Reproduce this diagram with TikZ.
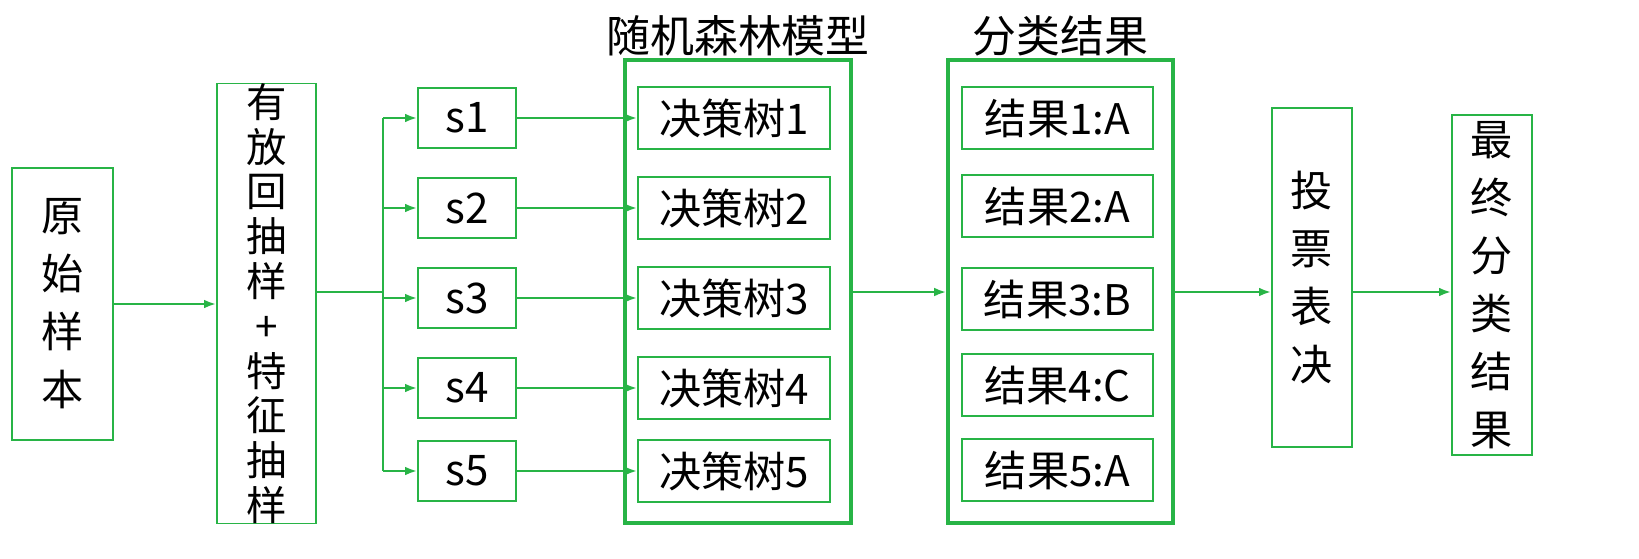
\documentclass[tikz,border=0pt]{standalone}
\usepackage{fontspec}
\setmainfont{Noto Sans CJK SC}
\usetikzlibrary{arrows.meta}
\definecolor{boxgreen}{RGB}{40,180,70}
\newdimen\pxu \pxu=0.02cm
\begin{document}
\begin{tikzpicture}[x=0.02cm,y=-0.02cm]
    % Define styles for boxes and arrows
    \tikzset{
        box/.style={draw=boxgreen,line width=0.8pt,inner sep=0pt,align=center,
            font=\fontsize{24}{33}\selectfont},
        frame/.style={draw=boxgreen,line width=1.8pt,inner sep=0pt},
        arr/.style={draw=boxgreen,line width=1.4pt,-{Latex[length=7pt,width=5pt]}}
    }
    \useasboundingbox (0,0) rectangle (1639,558);

    % Left columns
    \node[box,minimum width=101\pxu,minimum height=272\pxu] (src) at (62.5,304) {原\\始\\样\\本};
    \node[box,minimum width=99\pxu,minimum height=439\pxu,font=\fontsize{23}{25.5}\selectfont]
        (smp) at (266.5,303.5) {有\\放\\回\\抽\\样\\+\\特\\征\\抽\\样};
    \coordinate (br) at (383,292);

    % Samples and decision trees
    \foreach \i/\y in {1/118, 2/208, 3/298, 4/388, 5/471}{
        \node[box,minimum width=98\pxu,minimum height=60\pxu] (s\i) at (467,\y) {s\i};
        \node[box,minimum width=192\pxu,minimum height=62\pxu] (t\i) at (734,\y) {决策树\i};
        \coordinate (b\i) at (383,\y);
        \draw[arr] (s\i) -- (t\i);
    }
    \draw[draw=boxgreen,line width=1.4pt] (b1) -- (b5);
    \foreach \i in {1,...,5}{
        \draw[arr] (b\i) -- (s\i);
    }

    % Forest frame
    \node[frame,minimum width=226\pxu,minimum height=463\pxu] (forest) at (738,291.5) {};
    \node[font=\fontsize{25}{28}\selectfont] (forestt) at (738,36) {随机森林模型};

    % Results frame
    \node[frame,minimum width=225\pxu,minimum height=463\pxu] (res) at (1060.5,291.5) {};
    \node[font=\fontsize{25}{28}\selectfont] (rest) at (1060.5,36) {分类结果};
    \foreach \i/\y/\c in {1/118/A, 2/206/A, 3/299/B, 4/385/C, 5/470/A}{
        \node[box,minimum width=191\pxu,minimum height=62\pxu] (r\i) at (1057.5,\y) {结果\i:\c};
    }

    % Voting and final
    \node[box,minimum width=80\pxu,minimum height=339\pxu] (vote) at (1312,277.5) {投\\票\\表\\决};
    \node[box,minimum width=80\pxu,minimum height=340\pxu] (fin) at (1492,285) {最\\终\\分\\类\\结\\果};

    % Connectors
    \draw[arr] (src.east |- 0,304) -- (smp.west |- 0,304);
    \draw[draw=boxgreen,line width=1.4pt] (smp.east |- br) -- (br);
    \draw[arr] (forest.east |- 0,292) -- (res.west |- 0,292);
    \draw[arr] (res.east |- 0,292) -- (vote.west |- 0,292);
    \draw[arr] (vote.east |- 0,292) -- (fin.west |- 0,292);
\end{tikzpicture}
\end{document}
